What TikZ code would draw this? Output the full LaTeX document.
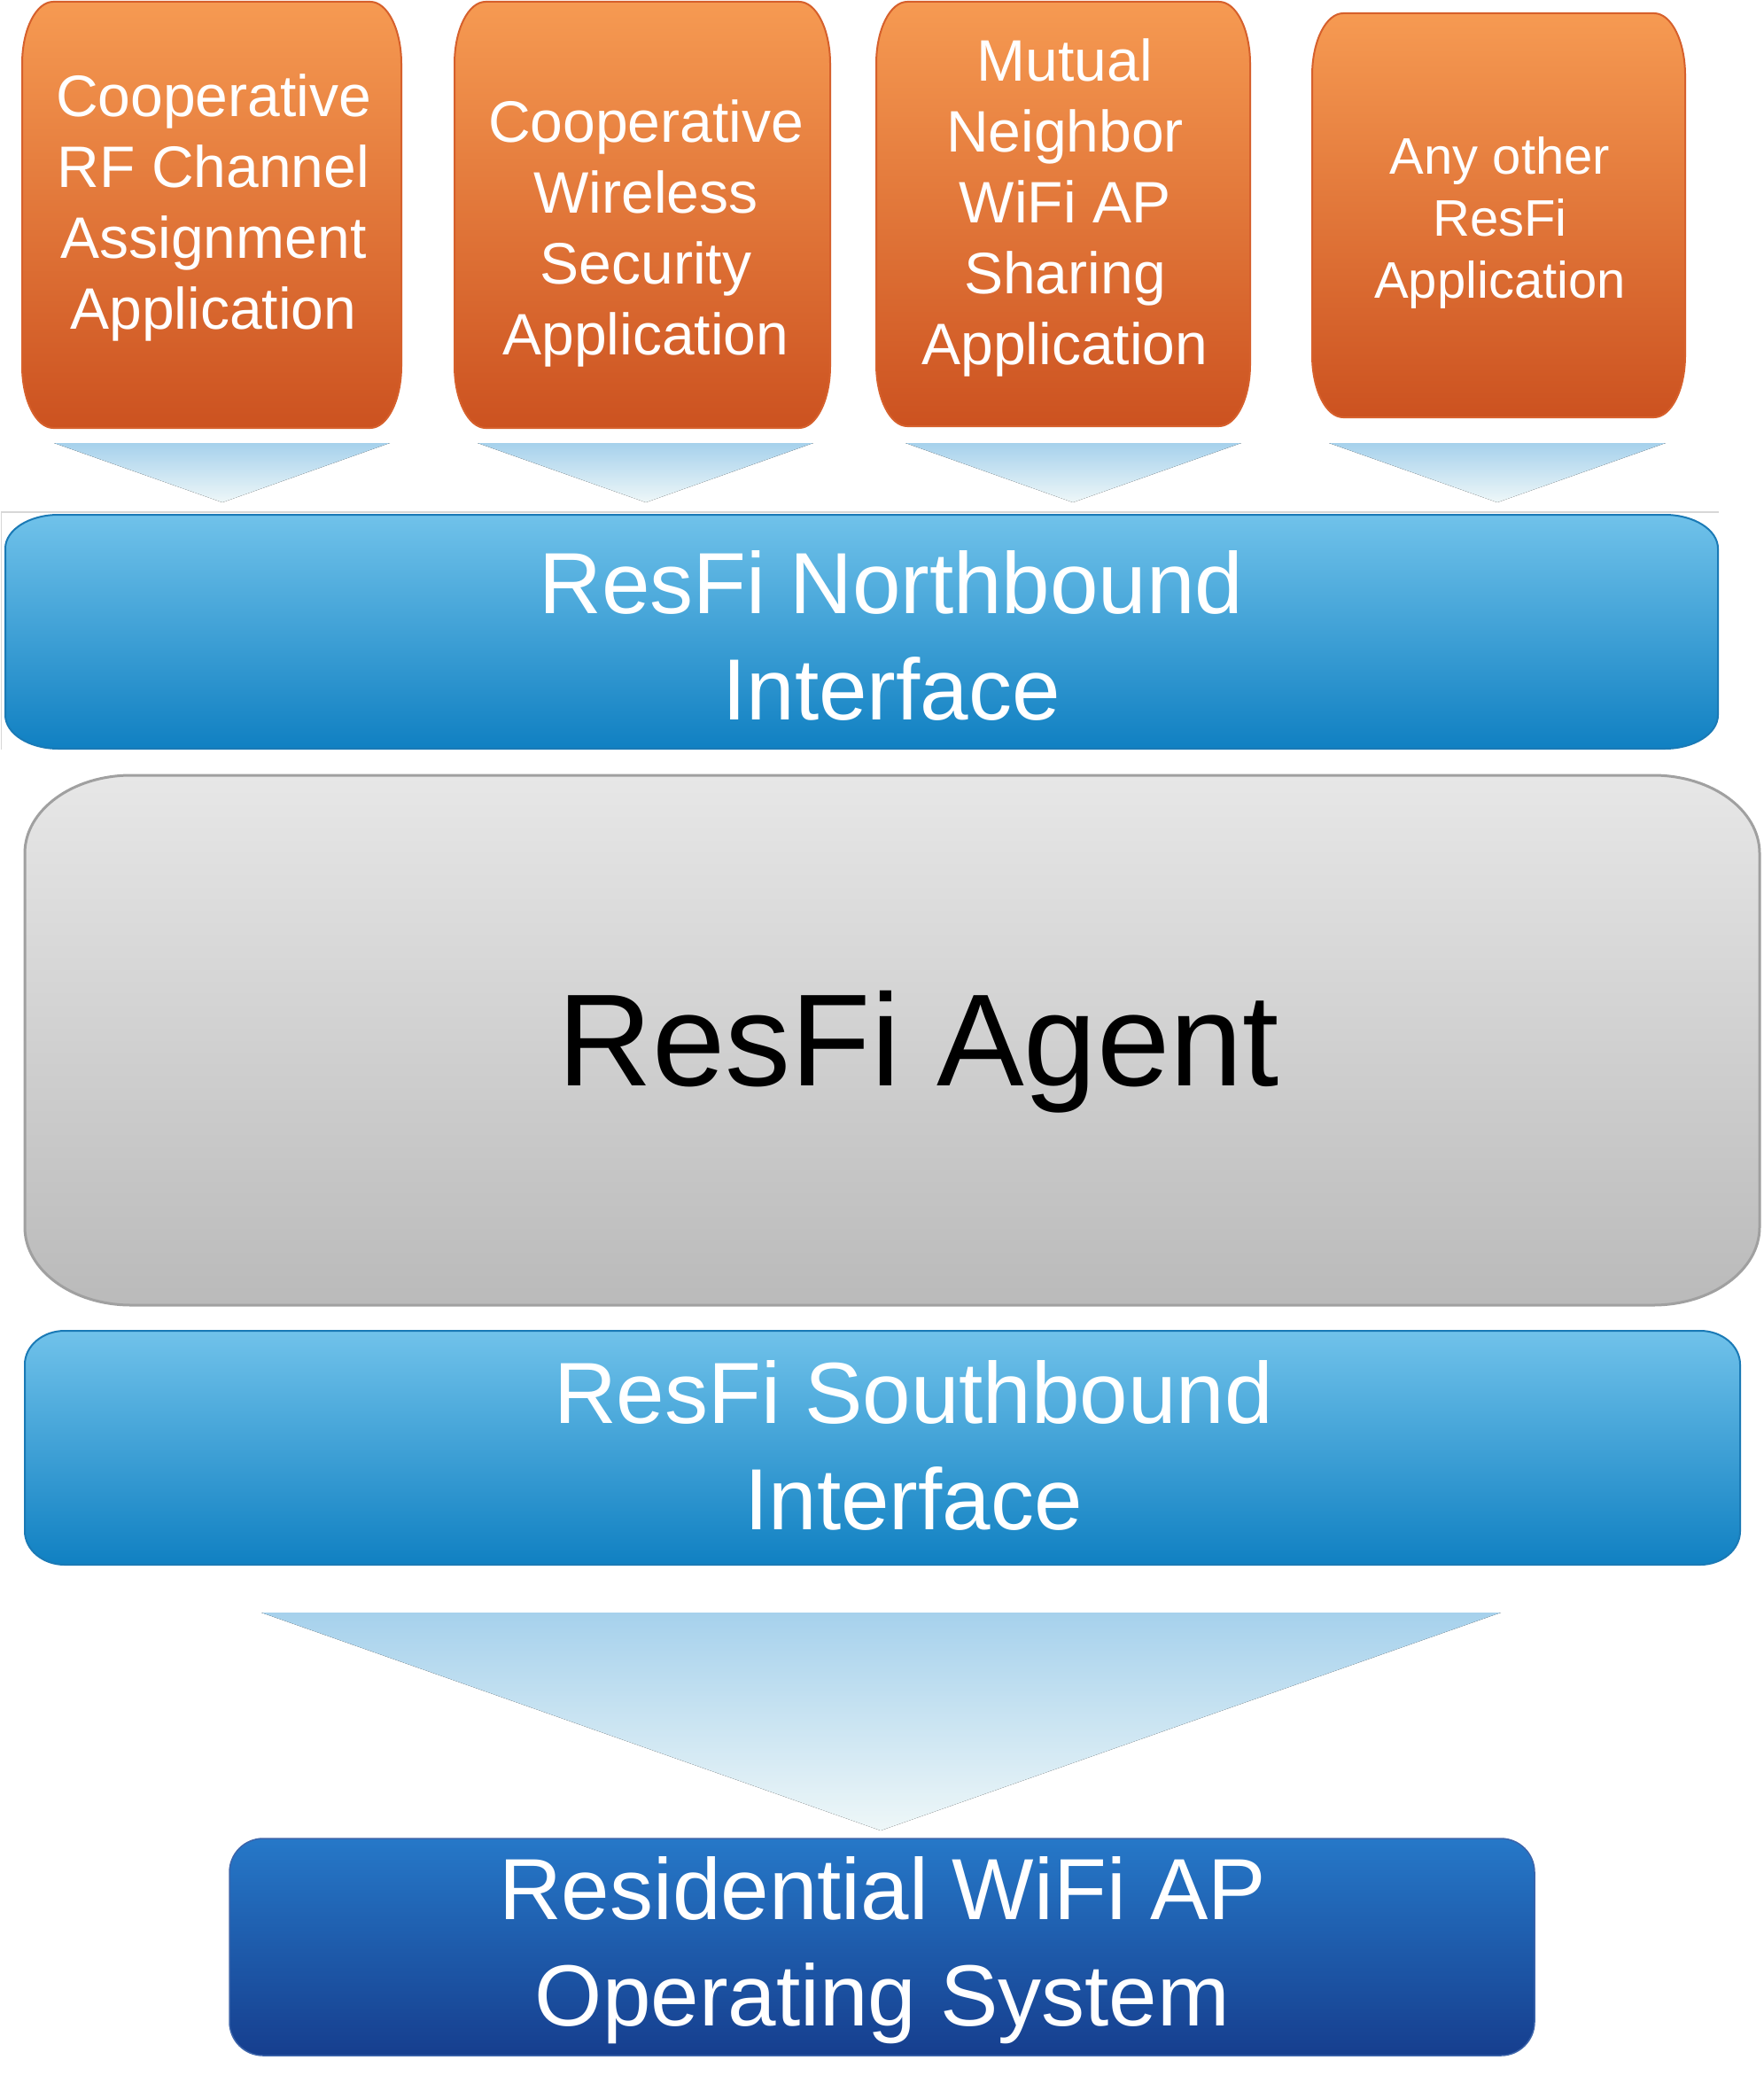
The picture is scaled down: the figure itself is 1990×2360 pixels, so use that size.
\documentclass[tikz,border=0pt]{standalone}
\usepackage{fontspec}
\setmainfont{Liberation Sans}
\usetikzlibrary{shadings}
\definecolor{orTop}{RGB}{246,154,82}
\definecolor{orMid}{RGB}{231,118,56}
\definecolor{orBot}{RGB}{204,82,32}
\definecolor{orEdge}{RGB}{214,96,44}
\definecolor{blTop}{RGB}{112,194,234}
\definecolor{blMid}{RGB}{66,168,216}
\definecolor{blBot}{RGB}{16,128,194}
\definecolor{blEdge}{RGB}{26,122,182}
\definecolor{grTop}{RGB}{231,231,231}
\definecolor{grBot}{RGB}{186,186,186}
\definecolor{grEdge}{RGB}{160,160,160}
\definecolor{dbTop}{RGB}{38,120,200}
\definecolor{dbBot}{RGB}{22,62,142}
\definecolor{dbEdge}{RGB}{60,100,170}
\definecolor{trTop}{RGB}{166,209,236}
\definecolor{trBot}{RGB}{238,247,248}
\definecolor{frameGray}{RGB}{215,215,215}
\newcommand{\ebox}[7]{%
 \path[#7] (#1,#2+#6) .. controls (#1,#2+0.448*#6) and (#1+0.448*#5,#2) .. (#1+#5,#2)
 -- (#3-#5,#2) .. controls (#3-0.448*#5,#2) and (#3,#2+0.448*#6) .. (#3,#2+#6)
 -- (#3,#4-#6) .. controls (#3,#4-0.448*#6) and (#3-0.448*#5,#4) .. (#3-#5,#4)
 -- (#1+#5,#4) .. controls (#1+0.448*#5,#4) and (#1,#4-0.448*#6) .. (#1,#4-#6) -- cycle;}
\tikzset{
 appbox/.style={top color=orTop, middle color=orMid, bottom color=orBot, draw=orEdge, line width=2pt},
 ifbox/.style={top color=blTop, middle color=blMid, bottom color=blBot, draw=blEdge, line width=2pt},
 agentbox/.style={top color=grTop, bottom color=grBot, draw=grEdge, line width=3pt},
 osbox/.style={top color=dbTop, bottom color=dbBot, draw=dbEdge, line width=1.5pt},
 funnel/.style={top color=trTop, bottom color=trBot},
 apptext/.style={text=white, align=center, inner sep=0pt, font=\fontsize{66}{80}\selectfont},
 apptextsmall/.style={text=white, align=center, inner sep=0pt, font=\fontsize{58}{70}\selectfont},
 bigtext/.style={text=white, align=center, inner sep=0pt, font=\fontsize{98}{120}\selectfont},
 agenttext/.style={text=black, inner sep=0pt, font=\fontsize{148}{178}\selectfont}
}
\begin{document}
\begin{tikzpicture}[x=1pt,y=-1pt]
\useasboundingbox (0,0) rectangle (1990,2360);
\fill[white] (0,0) rectangle (1990,2360);
% application boxes
\ebox{25}{2}{453}{483}{35}{70}{appbox}
\ebox{513}{2}{937}{483}{35}{70}{appbox}
\ebox{989}{2}{1411}{481}{35}{70}{appbox}
\ebox{1481}{15}{1902}{471}{35}{70}{appbox}
\node[apptext] (app1) at (241,234.5) {Cooperative\\RF Channel\\Assignment\\Application};
\node[apptext] (app2) at (729,263.5) {Cooperative\\Wireless\\Security\\Application};
\node[apptext] (app3) at (1202,234) {Mutual\\Neighbor\\WiFi AP\\Sharing\\Application};
\node[apptextsmall] (app4) at (1693,252) {Any other\\ResFi\\Application};
% small funnels
\coordinate (f1a) at (61,500); \coordinate (f1b) at (440,500); \coordinate (f1c) at (251,567);
\coordinate (f2a) at (539,500); \coordinate (f2b) at (918,500); \coordinate (f2c) at (729,567);
\coordinate (f3a) at (1022,500); \coordinate (f3b) at (1401,500); \coordinate (f3c) at (1211,567);
\coordinate (f4a) at (1500,500); \coordinate (f4b) at (1880,500); \coordinate (f4c) at (1690,567);
\fill[funnel] (f1a) -- (f1b) -- (f1c) -- cycle;
\fill[funnel] (f2a) -- (f2b) -- (f2c) -- cycle;
\fill[funnel] (f3a) -- (f3b) -- (f3c) -- cycle;
\fill[funnel] (f4a) -- (f4b) -- (f4c) -- cycle;
% faint frame
\coordinate (frA) at (1940,578); \coordinate (frB) at (1.5,578); \coordinate (frC) at (1.5,846);
\draw[frameGray, line width=1.5pt] (frA) -- (frB) -- (frC);
% northbound
\ebox{6}{581}{1939}{845}{60}{38}{ifbox}
\node[bigtext] (north) at (1006,717) {ResFi Northbound\\Interface};
% agent
\ebox{28}{875}{1986}{1473}{120}{88}{agentbox}
\node[agenttext] (agent) at (1037,1187.5) {ResFi Agent};
% southbound
\ebox{28}{1502}{1964}{1766}{45}{38}{ifbox}
\node[bigtext] (south) at (1031,1631) {ResFi Southbound\\Interface};
% big funnel
\coordinate (bfa) at (295,1820); \coordinate (bfb) at (1694,1820); \coordinate (bfc) at (994,2066);
\fill[funnel] (bfa) -- (bfb) -- (bfc) -- cycle;
% OS
\ebox{259}{2075}{1732}{2320}{38}{38}{osbox}
\node[bigtext] (os) at (996,2201) {Residential WiFi AP\\Operating System};
\end{tikzpicture}
\end{document}
